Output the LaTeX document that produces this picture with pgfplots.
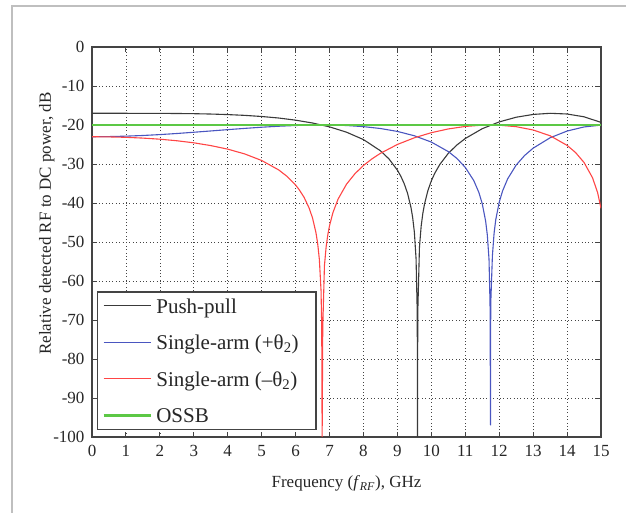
\documentclass[border=0pt]{standalone}
\usepackage{pgfplots}
\pgfplotsset{compat=1.18}
\usepackage{fontspec}
\setmainfont{Liberation Serif}
\definecolor{ppcol}{HTML}{3A3A3A}
\definecolor{pluscol}{HTML}{4A56C0}
\definecolor{minuscol}{HTML}{FF4545}
\definecolor{ossbcol}{HTML}{5CC845}
\definecolor{axcol}{HTML}{444444}
\begin{document}
\begin{tikzpicture}
\path[use as bounding box] (0,0) rectangle (626bp,513bp);
\draw[black!25, line width=1.2bp] (12bp,0) -- (12bp,507bp) -- (626bp,507bp);
\begin{axis}[
  at={(92bp,76bp)}, anchor=south west,
  scale only axis, width=509bp, height=390bp,
  xmin=0, xmax=15, ymin=-100, ymax=0,
  xtick={0,1,...,15}, ytick={-100,-90,...,0},
  xticklabels={0,1,2,3,4,5,6,7,8,9,10,11,12,13,14,15},
  yticklabels={-100,-90,-80,-70,-60,-50,-40,-30,-20,-10,0},
  tick label style={font=\fontsize{17bp}{19bp}\selectfont, text=black!85},
  xticklabel style={yshift=-5bp},
  yticklabel style={xshift=-4bp},
  tick align=inside, major tick length=5bp,
  tick style={axcol, line width=0.9bp},
  axis line style={axcol, line width=1.2bp},
  grid=major, grid style={axcol, line width=0.7bp, dash pattern=on 0.8bp off 2.6bp},
  xlabel={Frequency (\textit{f}\textsubscript{\textit{RF}}), GHz},
  ylabel={Relative detected RF to DC power, dB},
  label style={font=\fontsize{17bp}{19bp}\selectfont, text=black!85},
  xlabel style={at={(axis description cs:0.5,-0.12)}, anchor=center},
  ylabel style={at={(axis description cs:-0.089,0.547)}, anchor=center},
  legend style={at={(axis description cs:0.0098,0.018)}, anchor=south west,
    draw=axcol, line width=1.3bp, fill=white,
    font=\fontsize{21bp}{23bp}\selectfont,
    row sep=19bp, inner xsep=5bp, inner ysep=5bp,
    nodes={inner ysep=0bp, inner xsep=4.5bp}},
  legend cell align=left,
  legend image code/.code={\draw[#1] (0bp,0bp) -- (47bp,0bp);},
  clip=true,
]
% push-pull
\addplot[ppcol, line width=1.1bp] coordinates {
 (0,-17.00)(0.5,-17.00)(1,-17.00)(1.5,-17.01)(2,-17.02)(2.5,-17.05)(3,-17.10)
 (3.5,-17.19)(4,-17.33)(4.5,-17.53)(5,-17.82)(5.5,-18.21)(6,-18.76)(6.5,-19.49)
 (7,-20.48)(7.5,-21.84)(8,-23.74)(8.5,-26.61)(8.75,-28.68)(9,-31.58)(9.1,-33.12)
 (9.2,-35.04)(9.3,-37.54)(9.4,-41.14)(9.45,-43.74)(9.5,-47.49)(9.55,-54.32)
 (9.585,-68.25)(9.592,-100)(9.6,-68.25)(9.65,-51.34)(9.7,-45.95)(9.75,-42.63)
 (9.8,-40.23)(9.9,-36.79)(10,-34.32)(10.1,-32.39)(10.25,-30.11)(10.5,-27.27)
 (10.75,-25.15)(11,-23.46)(11.5,-20.95)(12,-19.21)(12.5,-18.01)(13,-17.29)
 (13.5,-17.00)(14,-17.18)(14.5,-17.90)(15,-19.33)
};
\addlegendentry{\textcolor{black!85}{\strut Push-pull}}
% single-arm +theta2
\addplot[pluscol, line width=1.1bp] coordinates {
 (0,-23.01)(0.5,-22.97)(1,-22.86)(1.5,-22.69)(2,-22.46)(2.5,-22.18)(3,-21.86)
 (3.5,-21.53)(4,-21.19)(4.5,-20.87)(5,-20.57)(5.5,-20.32)(6,-20.13)(6.5,-20.02)
 (7,-20.01)(7.5,-20.13)(8,-20.42)(8.5,-20.90)(9,-21.65)(9.5,-22.76)(10,-24.38)
 (10.5,-26.82)(10.75,-28.55)(11,-30.87)(11.25,-34.24)(11.4,-37.28)(11.5,-40.17)
 (11.6,-44.63)(11.65,-48.21)(11.7,-54.45)(11.73,-66)(11.745,-97)(11.75,-66)
 (11.8,-53.49)(11.85,-47.67)(11.9,-44.21)(12,-39.81)(12.1,-36.89)(12.25,-33.79)
 (12.5,-30.27)(12.75,-27.81)(13,-25.94)(13.5,-23.28)(14,-21.55)(14.5,-20.50)
 (15,-20.03)
};
\addlegendentry{\textcolor{black!85}{\strut Single-arm (+θ\textsubscript{2})}\rule{8bp}{0pt}}
% single-arm -theta2
\addplot[minuscol, line width=1.1bp] coordinates {
 (0,-23.01)(0.5,-23.05)(1,-23.16)(1.5,-23.36)(2,-23.64)(2.5,-24.04)(3,-24.57)
 (3.5,-25.28)(4,-26.19)(4.5,-27.42)(5,-29.10)(5.5,-31.51)(5.75,-33.19)(6,-35.40)
 (6.1,-36.51)(6.25,-38.55)(6.4,-41.32)(6.5,-43.88)(6.6,-47.61)(6.65,-50.36)
 (6.7,-54.45)(6.75,-62.5)(6.77,-72)(6.782,-100)(6.8,-72)(6.85,-56.06)
 (6.9,-51.22)(6.95,-48.11)(7,-45.81)(7.1,-42.47)(7.25,-39.03)(7.5,-35.18)
 (7.75,-32.48)(8,-30.38)(8.25,-28.69)(8.5,-27.26)(9,-24.99)(9.5,-23.28)
 (10,-21.97)(10.5,-21.01)(11,-20.37)(11.5,-20.04)(12,-20.05)(12.5,-20.43)
 (13,-21.28)(13.5,-22.76)(14,-25.22)(14.25,-27.06)(14.5,-29.61)(14.75,-33.52)
 (14.9,-37.33)(15,-41.38)
};
\addlegendentry{\textcolor{black!85}{\strut Single-arm (–θ\textsubscript{2})}}
% OSSB
\addplot[ossbcol, line width=2.2bp] coordinates {(0,-20)(15,-20)};
\addlegendentry{\textcolor{black!85}{\strut OSSB}}
\end{axis}
\end{tikzpicture}
\end{document}
